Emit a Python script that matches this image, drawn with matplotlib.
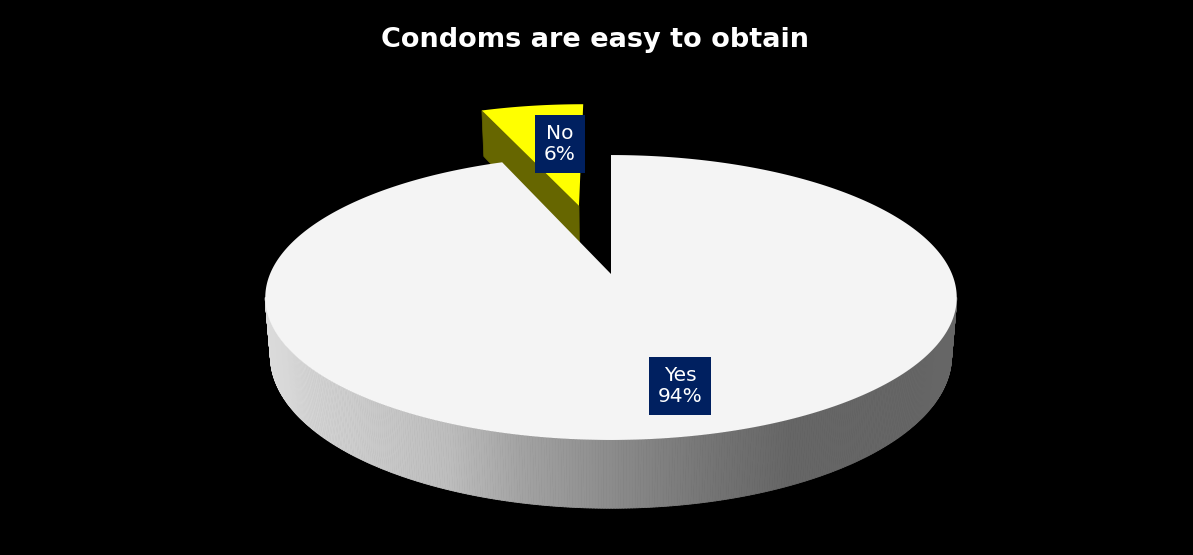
import numpy as np
import matplotlib
matplotlib.use("Agg")
import matplotlib.pyplot as plt
from matplotlib.collections import PolyCollection
from matplotlib.patches import Polygon

# ---- data ----
title = "Condoms are easy to obtain"
categories = ["No", "Yes"]
values = [6, 94]
top_colors = ["#FFFF00", "#F4F4F4"]
cut_colors = ["#666600", "#B0B0B0"]
explode = [0.545, 0.0]

# ---- figure ----
W, H = 1193, 555
fig = plt.figure(figsize=(W / 100, H / 100), dpi=100, facecolor="black")
ax = fig.add_axes([0, 0, 1, 1])
ax.set_xlim(0, W)
ax.set_ylim(H, 0)
ax.axis("off")
ax.set_facecolor("black")

# perspective projection of a unit disk (u right, w back), d = 0 top face, 1 bottom
CX, CY = 611, 274
A, B, P, DEPTH = 341, 138.6, 0.165, 57


def proj(u, w, d=0.0):
    u = np.asarray(u, float)
    w = np.asarray(w, float)
    s = 1 + P * w
    x = CX + A * u * (1 - 0.015 * d) / s
    y = CY + (-B * w + DEPTH * d) / s
    return np.column_stack([np.atleast_1d(x), np.atleast_1d(y)])


# slice angles (counter-clockwise from 12 o'clock)
fr = np.array(values, float) / np.sum(values)
bounds = 90 + 360 * np.concatenate([[0], np.cumsum(fr)])
slices = []
for i in range(len(values)):
    t1, t2 = bounds[i], bounds[i + 1]
    mid = np.radians((t1 + t2) / 2)
    ou, ow = explode[i] * np.cos(mid), explode[i] * np.sin(mid)
    slices.append((t1, t2, ou, ow))


def side_gray(x):
    return np.interp(x, [267, 450, 520, 620, 720, 790], [0.86, 0.74, 0.64, 0.54, 0.45, 0.40])


# draw the exploded (back) slice first, then the big slice
order = sorted(range(len(values)), key=lambda i: -slices[i][3])
for i in order:
    t1, t2, ou, ow = slices[i]
    # visible radial face at end angle t2 (faces front-left)
    r2 = np.radians(t2)
    if i == 0:
        pts = np.vstack([proj(ou, ow, 0), proj(ou + np.cos(r2), ow + np.sin(r2), 0),
                         proj(ou + np.cos(r2), ow + np.sin(r2), 1), proj(ou, ow, 1)])
        ax.add_patch(Polygon(pts, closed=True, fc=cut_colors[i], ec=cut_colors[i], lw=0.5, zorder=2 + i * 3))
    # curved outer side, visible (front facing) part
    lo = max(t1, 180 + np.degrees(np.arcsin(P)))
    hi = min(t2, 360 - np.degrees(np.arcsin(P)))
    if hi > lo:
        th = np.radians(np.linspace(lo, hi, 400))
        polys, cols = [], []
        for a0, a1 in zip(th[:-1], th[1:]):
            q = np.vstack([proj(ou + np.cos(a0), ow + np.sin(a0), 0), proj(ou + np.cos(a1), ow + np.sin(a1), 0),
                           proj(ou + np.cos(a1), ow + np.sin(a1), 1), proj(ou + np.cos(a0), ow + np.sin(a0), 1)])
            polys.append(q)
            g = side_gray(q[:, 0].mean())
            cols.append((g, g, g))
        pc = PolyCollection(polys, facecolors=cols, edgecolors=cols, linewidths=0.6, zorder=2 + i * 3)
        ax.add_collection(pc)
    # top face
    th = np.radians(np.linspace(t1, t2, 400))
    top = np.vstack([proj(ou, ow, 0), proj(ou + np.cos(th), ow + np.sin(th), 0)])
    ax.add_patch(Polygon(top, closed=True, fc=top_colors[i], ec="none", zorder=3 + i * 3))

# ---- labels ----
label_pos = {"No": (560, 144), "Yes": (680, 386)}
for cat, v in zip(categories, values):
    x, y = label_pos[cat]
    ax.text(x, y, f"{cat}\n{v}%", ha="center", va="center", color="white",
            fontsize=14.5, family="DejaVu Sans", linespacing=1.1, zorder=20,
            bbox=dict(boxstyle="square,pad=0.45", fc="#002060", ec="none"))

ax.text(595, 40, title, ha="center", va="center", color="white", fontsize=19.5,
        fontweight="bold", family="DejaVu Sans", zorder=20)

fig.savefig("out.png", dpi=100, facecolor="black")
